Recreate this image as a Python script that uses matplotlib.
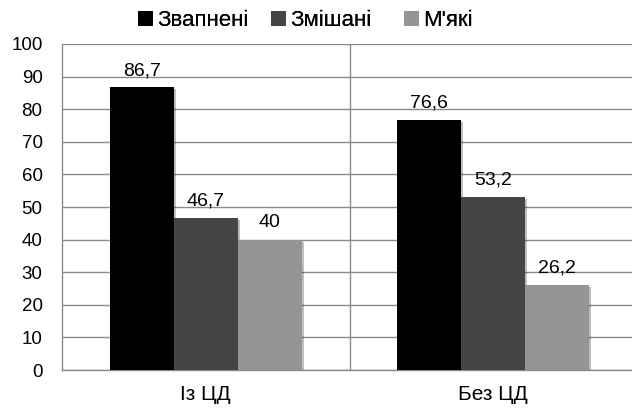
import matplotlib
matplotlib.use("Agg")
import matplotlib.pyplot as plt
import matplotlib.patheffects as pe
from matplotlib.patches import Patch
import numpy as np

plt.rcParams['font.family'] = ['Liberation Sans', 'DejaVu Sans']

categories = ["Із ЦД", "Без ЦД"]
series_names = ["Звапнені", "Змішані", "М'які"]
zvapneni = [86.7, 76.6]
zmishani = [46.7, 53.2]
miaki = [40, 26.2]
labels_zvapneni = ["86,7", "76,6"]
labels_zmishani = ["46,7", "53,2"]
labels_miaki = ["40", "26,2"]
yticks = [0, 10, 20, 30, 40, 50, 60, 70, 80, 90, 100]

colors = ["#000000", "#454545", "#959595"]
grid_color = "#8a8a8a"

fig = plt.figure(figsize=(6.32, 4.11), dpi=100)
W, H = 632, 411
left, right, top, bottom = 62, 637, 44, 370
ax = fig.add_axes([left / W, (H - bottom) / H, (right - left) / W, (bottom - top) / H])

x = np.arange(len(categories))
bw = 0.2227
series = [zvapneni, zmishani, miaki]
labels = [labels_zvapneni, labels_zmishani, labels_miaki]
shadow = [pe.SimplePatchShadow(offset=(1.5, -1.5), shadow_rgbFace="#000000", alpha=0.25), pe.Normal()]

for i, (vals, labs, name) in enumerate(zip(series, labels, series_names)):
    pos = x + (i - 1) * bw
    bars = ax.bar(pos, vals, width=bw, color=colors[i], label=name, zorder=3,
                  linewidth=0)
    for b in bars:
        b.set_path_effects(shadow)
    for px, v, t in zip(pos, vals, labs):
        ax.annotate(t, (px, v), xytext=(0, 6), textcoords="offset points",
                    ha="center", va="bottom", fontsize=14, color="#000000")

ax.set_xlim(-0.5, 1.5)
ax.set_ylim(0, 100)
ax.set_yticks(yticks)
ax.set_yticklabels([str(t) for t in yticks], fontsize=13.5)
ax.set_xticks(x)
ax.set_xticklabels(categories, fontsize=15)
ax.tick_params(axis="both", length=0)
ax.tick_params(axis="x", pad=11)
ax.tick_params(axis="y", pad=14)

ax.grid(axis="y", color=grid_color, linewidth=1.0, zorder=0)
ax.set_axisbelow(True)
ax.axvline(0.5, color=grid_color, linewidth=1.0, zorder=1)

for s in ["top", "right"]:
    ax.spines[s].set_visible(False)
ax.spines["left"].set_color(grid_color)
ax.spines["bottom"].set_color(grid_color)
ax.spines["left"].set_linewidth(1.0)
ax.spines["bottom"].set_linewidth(1.0)

# Legend entries laid out in equal-width slots across the top
legend_starts = [138, 271, 404]
for color, name, xs in zip(colors, series_names, legend_starts):
    leg = fig.legend(handles=[Patch(facecolor=color, linewidth=0)], labels=[name],
                     loc="center left", bbox_to_anchor=(xs / W, 1 - 21 / H),
                     frameon=False, fontsize=16, handlelength=0.68, handleheight=0.68,
                     handletextpad=0.2, borderpad=0, borderaxespad=0)
    fig.add_artist(leg)

fig.savefig("out.png", dpi=100)
